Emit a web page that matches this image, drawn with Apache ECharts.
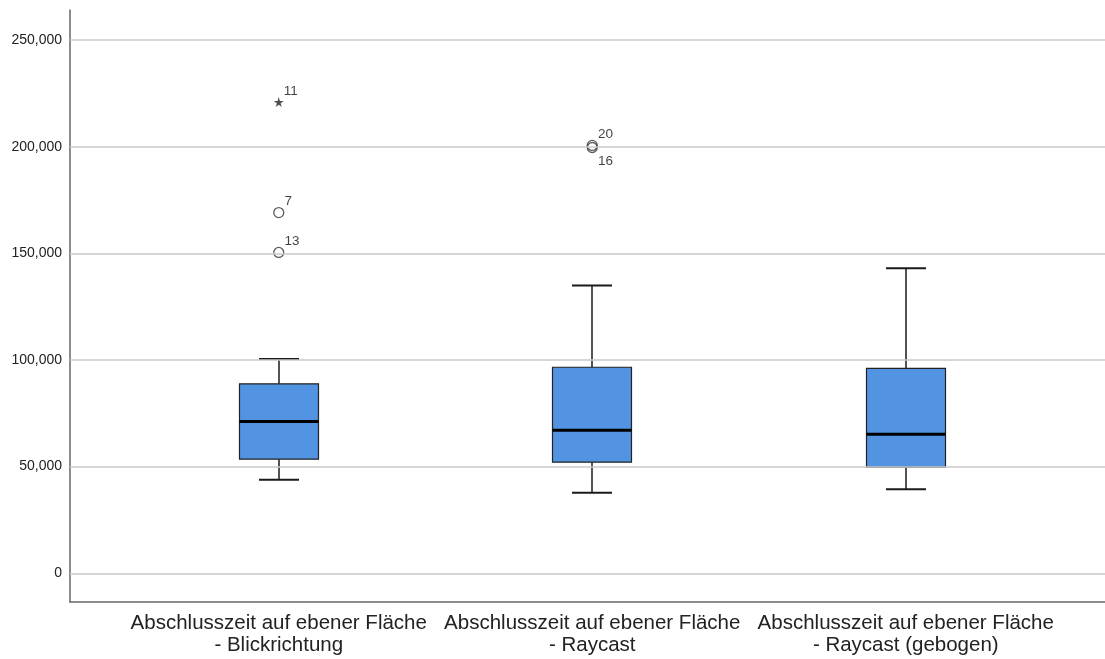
<!DOCTYPE html>
<html>
<head>
<meta charset="utf-8">
<title>Boxplot</title>
<script src="https://cdn.jsdelivr.net/npm/echarts@6/dist/echarts.min.js"></script>
</head>
<body style="margin:0">
<div id="main" style="width:1105px;height:659px;"></div>
<script type="text/javascript">
// categories
var categories = [
  'Abschlusszeit auf ebener Fläche\n- Blickrichtung',
  'Abschlusszeit auf ebener Fläche\n- Raycast',
  'Abschlusszeit auf ebener Fläche\n- Raycast (gebogen)'
];
// [low, q1, median, q3, high]
var boxValues = [
  [43900, 53500, 71100, 88800, 100500],
  [37700, 52100, 67100, 96600, 134900],
  [39400, 49700, 65200, 96100, 143000]
];
// outliers: [category index, value, case number]
var outliers = [
  [0, 169100, '7'],
  [0, 150400, '13'],
  [1, 200600, '20'],
  [1, 199600, '16']
];
var extremes = [
  [0, 220900, '11']
];
var yTicks = [0, 50000, 100000, 150000, 200000, 250000];
var yMin = -13460, yMax = 264070;

var myChart = echarts.init(document.getElementById('main'));

var boxData = boxValues.map(function (b, i) { return [i].concat(b); });
var labelBelow = { '16': true };

function fmt(v) {
  return v.toString().replace(/\B(?=(\d{3})+(?!\d))/g, ',');
}

var starPath = 'path://M50,0 L61,35 L98,35 L68,57 L79,91 L50,70 L21,91 L32,57 L2,35 L39,35 Z';
var font = 'Arial, "Liberation Sans", sans-serif';

var option = {
  animation: false,
  backgroundColor: '#fff',
  grid: [
    { left: 70, right: 0, top: 10, bottom: 57 },
    { left: 122, right: 42.5, top: 10, bottom: 57 }
  ],
  xAxis: [
    {
      gridIndex: 0, type: 'value', min: 0, max: 1,
      axisLine: { show: true, onZero: false, lineStyle: { color: '#666', width: 1.5 } },
      axisTick: { show: false }, axisLabel: { show: false }, splitLine: { show: false }
    },
    {
      gridIndex: 1, type: 'category', data: categories,
      axisLine: { show: false }, axisTick: { show: false }, splitLine: { show: false },
      axisLabel: {
        interval: 0, margin: 11, color: '#222',
        fontFamily: font, fontSize: 20.5, lineHeight: 21.5
      }
    }
  ],
  yAxis: [
    {
      gridIndex: 0, type: 'value', min: yMin, max: yMax,
      axisLine: { show: true, lineStyle: { color: '#666', width: 1.5 } },
      axisTick: { show: false, customValues: yTicks },
      axisLabel: {
        customValues: yTicks, margin: 8, color: '#222',
        fontFamily: font, fontSize: 14,
        formatter: function (v) { return fmt(v); }
      },
      splitLine: { show: false }
    },
    {
      gridIndex: 1, type: 'value', min: yMin, max: yMax, show: false,
      splitLine: { show: false }
    }
  ],
  series: [
    {
      // horizontal reference lines at tick values
      type: 'line', xAxisIndex: 0, yAxisIndex: 0, data: [], silent: true,
      markLine: {
        silent: true, symbol: 'none', label: { show: false },
        lineStyle: { color: '#c8c8c8', width: 1.5, type: 'solid' },
        data: yTicks.map(function (t) { return { yAxis: t }; })
      }
    },
    {
      type: 'custom', xAxisIndex: 1, yAxisIndex: 1, data: boxData,
      renderItem: function (params, api) {
        var x = api.value(0);
        var low = api.coord([x, api.value(1)]);
        var q1 = api.coord([x, api.value(2)]);
        var med = api.coord([x, api.value(3)]);
        var q3 = api.coord([x, api.value(4)]);
        var high = api.coord([x, api.value(5)]);
        var cx = Math.round(low[0]);
        var bw = 79, cw = 40;
        var ls = { stroke: '#1a1a1a', lineWidth: 1.5 };
        return {
          type: 'group',
          children: [
            { type: 'line', shape: { x1: cx, y1: high[1], x2: cx, y2: q3[1] }, style: ls },
            { type: 'line', shape: { x1: cx, y1: q1[1], x2: cx, y2: low[1] }, style: ls },
            { type: 'line', shape: { x1: cx - cw / 2, y1: high[1], x2: cx + cw / 2, y2: high[1] }, style: { stroke: '#1a1a1a', lineWidth: 2 } },
            { type: 'line', shape: { x1: cx - cw / 2, y1: low[1], x2: cx + cw / 2, y2: low[1] }, style: { stroke: '#1a1a1a', lineWidth: 2 } },
            { type: 'rect', shape: { x: cx - bw / 2, y: q3[1], width: bw, height: q1[1] - q3[1] },
              style: { fill: '#5294e2', stroke: '#222', lineWidth: 1.2 } },
            { type: 'line', shape: { x1: cx - bw / 2, y1: med[1], x2: cx + bw / 2, y2: med[1] },
              style: { stroke: '#000', lineWidth: 3 } }
          ]
        };
      }
    },
    {
      type: 'scatter', xAxisIndex: 1, yAxisIndex: 1,
      symbol: 'circle', symbolSize: 10,
      itemStyle: { color: 'rgba(255,255,255,0)', borderColor: '#333', borderWidth: 1.3 },
      data: outliers.map(function (o) {
        var below = labelBelow[o[2]];
        return {
          value: [o[0], o[1]], name: o[2],
          label: { offset: below ? [-2, 14] : [-2, -11] }
        };
      }),
      label: {
        show: true, position: 'right', distance: 2,
        formatter: function (p) { return p.name; },
        color: '#111', fontSize: 13.5, fontFamily: font
      }
    },
    {
      type: 'scatter', xAxisIndex: 1, yAxisIndex: 1,
      symbol: starPath, symbolSize: 10,
      itemStyle: { color: '#222' },
      data: extremes.map(function (o) { return { value: [o[0], o[1]], name: o[2] }; }),
      label: {
        show: true, position: 'right', distance: 2, offset: [-2, -11],
        formatter: function (p) { return p.name; },
        color: '#111', fontSize: 13.5, fontFamily: font
      }
    }
  ]
};

myChart.setOption(option);
</script>
</body>
</html>
